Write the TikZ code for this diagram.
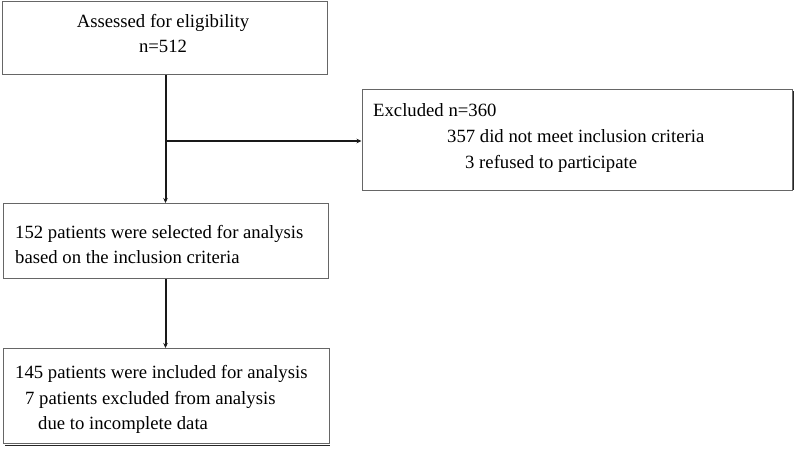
\documentclass[tikz,border=0pt]{standalone}
\usepackage{fontspec}
\setmainfont{Liberation Serif}
\usetikzlibrary{arrows.meta}
\begin{document}
\begin{tikzpicture}[x=1pt,y=-1pt,
  box/.style={draw=black!60,line width=1pt},
  conn/.style={draw=black!90,line width=2pt},
  arr/.style={conn,-{Stealth[length=5pt,width=4.5pt]}},
  txt/.style={inner sep=0pt,font=\fontsize{18.7}{22}\selectfont},
  shadowline/.style={draw=black!85,line width=1pt}]
\useasboundingbox (0,0) rectangle (797,449);
% boxes
\node[box,minimum width=325,minimum height=73,anchor=north west,inner sep=0pt] (b1) at (1.5,1) {};
\node[box,minimum width=430,minimum height=100,anchor=north west,inner sep=0pt] (b3) at (361.5,89.5) {};
\node[box,minimum width=325,minimum height=75,anchor=north west,inner sep=0pt] (b2) at (3,203) {};
\node[box,minimum width=326,minimum height=95,anchor=north west,inner sep=0pt] (b4) at (3,348) {};
% shadow lines
\draw[shadowline] (793,91) -- (793,190);
\draw[shadowline] (5,445.5) -- (330,445.5);
% texts
\node[txt] (t1a) at (163,23) {Assessed for eligibility};
\node[txt] (t1b) at (163,46) {n=512};
\node[txt,anchor=base west] (t3a) at (373,117) {Excluded n=360};
\node[txt,anchor=base west] (t3b) at (447,143) {357 did not meet inclusion criteria};
\node[txt,anchor=base west] (t3c) at (465,169) {3 refused to participate};
\node[txt,anchor=base west] (t2a) at (15,238) {152 patients were selected for analysis};
\node[txt,anchor=base west] (t2b) at (15,263) {based on the inclusion criteria};
\node[txt,anchor=base west] (t4a) at (15,378) {145 patients were included for analysis};
\node[txt,anchor=base west] (t4b) at (25,404) {7 patients excluded from analysis};
\node[txt,anchor=base west] (t4c) at (38,429) {due to incomplete data};
% connectors
\coordinate (j) at (165.5,141);
\draw[arr] (b1.south -| j) -- (b2.north -| j);
\draw[arr] (j) -- (j -| b3.west);
\draw[arr] (b2.south -| j) -- (b4.north -| j);
\end{tikzpicture}
\end{document}
